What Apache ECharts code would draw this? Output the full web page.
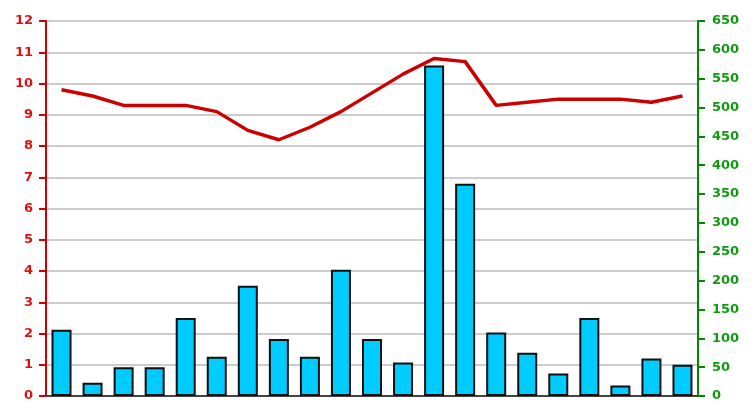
<!DOCTYPE html>
<html><head><meta charset="utf-8">
<script src="https://cdn.jsdelivr.net/npm/echarts@6/dist/echarts.min.js"></script>
<style>html,body{margin:0;padding:0;background:#fff}#c{width:756px;height:420px}</style>
</head><body><div id="c"></div>
<script>
var categories = ['1','2','3','4','5','6','7','8','9','10','11','12','13','14','15','16','17','18','19','20','21'];
var barValues = [115, 23, 50, 50, 135, 68, 191, 99, 68, 219, 99, 58, 573, 368, 110, 75, 39, 135, 18, 65, 54];
var lineValues = [9.8, 9.6, 9.3, 9.3, 9.3, 9.1, 8.5, 8.2, 8.6, 9.1, 9.7, 10.3, 10.8, 10.7, 9.3, 9.4, 9.5, 9.5, 9.5, 9.4, 9.6];

var chart = echarts.init(document.getElementById('c'));
chart.setOption({
  animation: false,
  grid: {left: 46, right: 58, top: 21, bottom: 24, show: true, borderColor: 'transparent'},
  xAxis: {
    type: 'category', data: categories,
    axisLine: {lineStyle: {color: '#444', width: 2}},
    axisTick: {show: false}, axisLabel: {show: false}
  },
  yAxis: [{
    type: 'value', min: 0, max: 12, interval: 1, position: 'left',
    axisLine: {show: true, lineStyle: {color: '#cc0000', width: 2}},
    axisTick: {show: true, length: 7, lineStyle: {color: '#cc0000', width: 2}},
    axisLabel: {color: '#dd1111', fontSize: 13, fontWeight: 'bold', fontFamily: 'DejaVu Sans', margin: 13},
    splitLine: {lineStyle: {color: '#cccccc', width: 2}}
  }, {
    type: 'value', min: 0, max: 650, interval: 50, position: 'right',
    axisLine: {show: true, lineStyle: {color: '#008800', width: 2}},
    axisTick: {show: true, length: 7, lineStyle: {color: '#008800', width: 2}},
    axisLabel: {color: '#119911', fontSize: 13, fontWeight: 'bold', fontFamily: 'DejaVu Sans', margin: 14},
    splitLine: {show: false}
  }],
  series: [{
    type: 'bar', yAxisIndex: 1, data: barValues, barWidth: 20,
    itemStyle: {color: '#00ccff', borderColor: '#111', borderWidth: 2}
  }, {
    type: 'line', yAxisIndex: 0, data: lineValues, symbol: 'none',
    lineStyle: {color: '#cc0000', width: 3.5}
  }],
  graphic: [{
    type: 'line', shape: {x1: 46, y1: 21, x2: 698, y2: 21},
    style: {stroke: '#444', lineWidth: 2}
  }]
});
</script></body></html>
